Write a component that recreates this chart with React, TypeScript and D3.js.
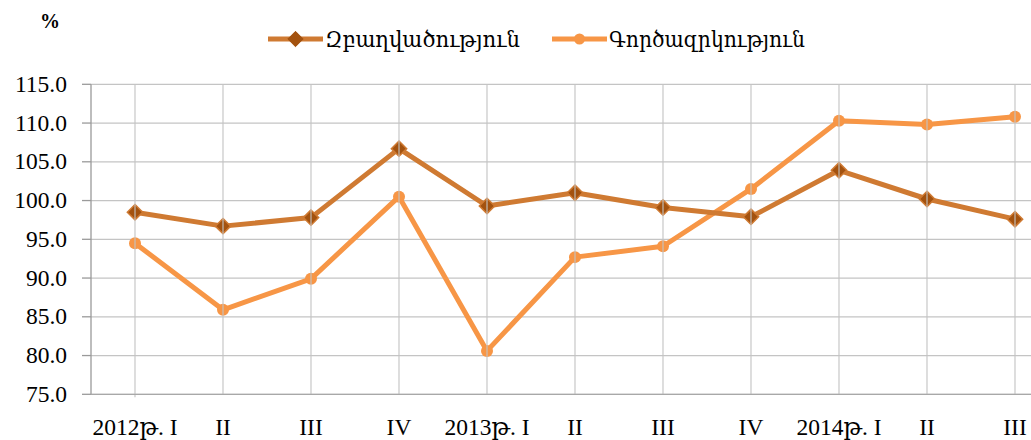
import React from "react";
import * as d3 from "d3";

const categories = ["2012թ. I", "II", "III", "IV", "2013թ. I", "II", "III", "IV", "2014թ. I", "II", "III"];
const employment = [98.5, 96.7, 97.8, 106.7, 99.3, 101.0, 99.1, 97.9, 103.9, 100.2, 97.6];
const unemployment = [94.5, 85.9, 89.9, 100.5, 80.6, 92.7, 94.1, 101.5, 110.3, 109.8, 110.8];
const yTicks = [75, 80, 85, 90, 95, 100, 105, 110, 115];
const seriesNames = ["Զբաղվածություն", "Գործազրկություն"];

const W = 1031;
const H = 440;
const FONT = "'Liberation Serif', 'DejaVu Serif', 'Times New Roman', serif";

export default function App() {
  const x = d3.scaleBand<number>().domain(d3.range(categories.length)).range([91, 91 + 88 * 11]).padding(0);
  const cx = (i: number) => (x(i) as number) + x.bandwidth() / 2;
  const y = d3.scaleLinear().domain([75, 115]).range([394.3, 84.3]);
  const line = d3.line<number>().x((_, i) => cx(i)).y((d) => y(d));
  const diamond = d3.symbol().type(d3.symbolDiamond2).size(150)();
  const c1 = "#cf7a32";
  const c1m = "#a3520f";
  const c2 = "#f79646";
  const grid = "#c4c4c4";

  return (
    <svg width={W} height={H} style={{ position: "absolute", left: 0, top: 0, background: "#fff" }}>
      <text x={40} y={28} fontFamily={FONT} fontSize={20} fontWeight="bold">%</text>
      {/* legend */}
      <g>
        <line x1={268} x2={323} y1={39} y2={39} stroke={c1} strokeWidth={5} />
        <path d={diamond} transform="translate(295.5,39)" fill={c1m} stroke={c1m} />
        <text x={325} y={47} fontFamily={FONT} fontSize={22} textLength={195} lengthAdjust="spacingAndGlyphs">{seriesNames[0]}</text>
        <line x1={552} x2={607} y1={39} y2={39} stroke={c2} strokeWidth={5} />
        <circle cx={579.5} cy={39} r={5.5} fill={c2} />
        <text x={609} y={47} fontFamily={FONT} fontSize={22} textLength={196} lengthAdjust="spacingAndGlyphs">{seriesNames[1]}</text>
      </g>
      {/* horizontal gridlines */}
      {yTicks.map((t) => (
        <line key={"h" + t} x1={91} x2={W} y1={y(t)} y2={y(t)} stroke={grid} strokeWidth={1.3} />
      ))}
      {/* series */}
      <path d={line(unemployment) as string} fill="none" stroke={c2} strokeWidth={5} strokeLinejoin="round" />
      {unemployment.map((v, i) => (
        <circle key={"u" + i} cx={cx(i)} cy={y(v)} r={6} fill={c2} />
      ))}
      <path d={line(employment) as string} fill="none" stroke={c1} strokeWidth={5} strokeLinejoin="round" />
      {employment.map((v, i) => (
        <path key={"e" + i} d={diamond} transform={`translate(${cx(i)},${y(v)})`} fill={c1m} stroke={c1} strokeWidth={1.5} />
      ))}
      {/* vertical gridlines */}
      {categories.map((_, i) => (
        <line key={"v" + i} x1={cx(i)} x2={cx(i)} y1={y(115)} y2={y(75) + (i === 0 ? 3 : 0)} stroke={grid} strokeWidth={1.3} opacity={0.85} />
      ))}
      {/* axes */}
      <line x1={91} x2={91} y1={y(115)} y2={y(75)} stroke="#9a9a9a" strokeWidth={1.3} />
      <line x1={91} x2={W} y1={y(75)} y2={y(75)} stroke="#a8a8a8" strokeWidth={1.3} />
      {yTicks.map((t) => (
        <g key={"t" + t}>
          <line x1={82} x2={91} y1={y(t)} y2={y(t)} stroke="#9a9a9a" strokeWidth={1.3} />
          <text x={67} y={y(t) + 7.5} textAnchor="end" fontFamily={FONT} fontSize={23.5}>{d3.format(".1f")(t)}</text>
        </g>
      ))}
      {/* x labels */}
      {categories.map((c, i) => (
        <text key={"x" + i} x={cx(i)} y={435} textAnchor="middle" fontFamily={FONT} fontSize={23.5}>{c}</text>
      ))}
    </svg>
  );
}
